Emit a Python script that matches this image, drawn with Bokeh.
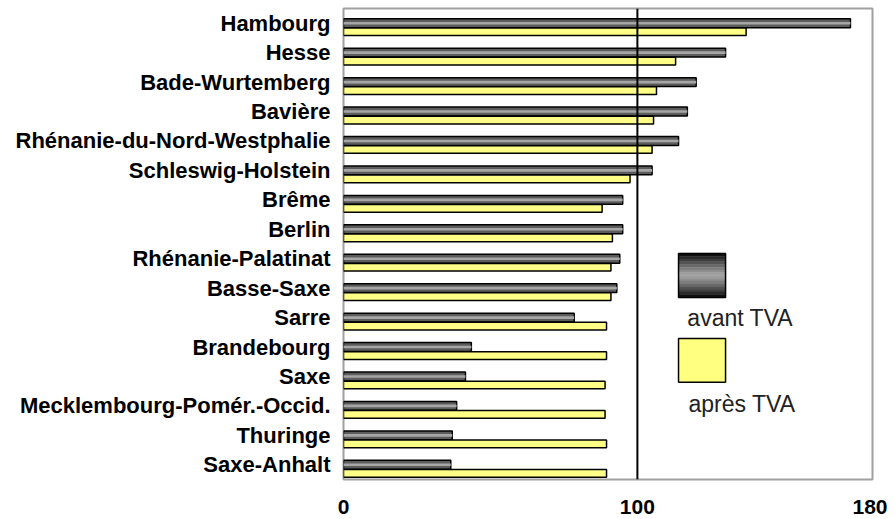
import numpy as np
from bokeh.plotting import figure
from bokeh.models import Range1d, FixedTicker, Span, Label
from bokeh.embed import file_html
from bokeh.resources import INLINE

categories = ["Hambourg", "Hesse", "Bade-Wurtemberg", "Bavière",
              "Rhénanie-du-Nord-Westphalie", "Schleswig-Holstein", "Brême",
              "Berlin", "Rhénanie-Palatinat", "Basse-Saxe", "Sarre",
              "Brandebourg", "Saxe", "Mecklembourg-Pomér.-Occid.",
              "Thuringe", "Saxe-Anhalt"]
avant_tva = [172.5, 130, 120, 117, 114, 105, 95, 95, 94, 93, 78.5,
             43.5, 41.5, 38.5, 37, 36.5]
apres_tva = [137, 113, 106.5, 105.5, 105, 97.5, 88, 91.5, 91, 91, 89.5,
             89.5, 89, 89, 89.5, 89.5]
x_ticks = [0, 100, 180]
legend_labels = ["avant TVA", "après TVA"]

n = len(categories)
centers = np.arange(n) + 0.5

p = figure(width=887, height=519, output_backend="svg", toolbar_location=None,
           x_range=Range1d(0, 180), y_range=Range1d(n, 0))
p.min_border_left = 343
p.min_border_right = 15
p.min_border_top = 8
p.min_border_bottom = 40
p.background_fill_color = "white"
p.border_fill_color = "white"
p.outline_line_color = "#a0a0a0"
p.outline_line_width = 2
p.xgrid.visible = False
p.ygrid.visible = False

# bars: avant (dark, gradient-like) on top, après (yellow) below
p.hbar(y=centers, right=avant_tva, left=0, height=0.3,
       fill_color="#5c5c5c", line_color="black", line_width=1.5)
p.hbar(y=centers, right=avant_tva, left=0, height=0.09,
       fill_color="#a6a6a6", line_color=None)
p.hbar(y=centers + 0.29, right=apres_tva, left=0, height=0.26,
       fill_color="#ffff88", line_color="black", line_width=1.5)

p.add_layout(Span(location=100, dimension="height", line_color="black",
                  line_width=2))

# legend (drawn manually: swatch above label)
lx0, lx1 = 114.0, 130.0
dy0, dy1 = 8.32, 9.82
nstr = 16
edges = np.linspace(dy0, dy1, nstr + 1)
for k in range(nstr):
    t = abs((k + 0.5) / nstr - 0.5) * 2  # 0 centre, 1 edges
    g = int(165 - 160 * t ** 1.2)
    col = "#%02x%02x%02x" % (g, g, g)
    p.quad(left=lx0, right=lx1, top=edges[k], bottom=edges[k + 1],
           fill_color=col, line_color=col, line_width=0.5)
p.quad(left=lx0, right=lx1, top=dy0, bottom=dy1, fill_color=None,
       line_color="black", line_width=1.5)
p.quad(left=lx0, right=lx1, top=11.21, bottom=12.70, fill_color="#ffff80",
       line_color="black", line_width=1.5)
p.add_layout(Label(x=117.0, y=10.52, text=legend_labels[0],
                   text_font="Liberation Sans", text_font_size="23px",
                   text_color="#222222", text_baseline="alphabetic"))
p.add_layout(Label(x=117.4, y=13.45, text=legend_labels[1],
                   text_font="Liberation Sans", text_font_size="23px",
                   text_color="#222222", text_baseline="alphabetic"))

# axes
p.yaxis.ticker = FixedTicker(ticks=list(centers))
p.yaxis.major_label_overrides = {float(c): lab for c, lab in zip(centers, categories)}
p.yaxis.major_label_text_font = "Liberation Sans"
p.yaxis.major_label_text_font_style = "bold"
p.yaxis.major_label_text_font_size = "22px"
p.yaxis.major_label_text_color = "black"
p.yaxis.major_label_standoff = 7
p.yaxis.axis_line_color = None
p.yaxis.major_tick_line_color = None
p.yaxis.minor_tick_line_color = None

p.xaxis.ticker = FixedTicker(ticks=x_ticks)
p.xaxis.major_label_text_font = "Liberation Sans"
p.xaxis.major_label_text_font_style = "bold"
p.xaxis.major_label_text_font_size = "21px"
p.xaxis.major_label_text_color = "black"
p.xaxis.major_label_standoff = 14
p.xaxis.axis_line_color = None
p.xaxis.major_tick_line_color = None
p.xaxis.minor_tick_line_color = None

open("out.html", "w").write(file_html(p, INLINE))
